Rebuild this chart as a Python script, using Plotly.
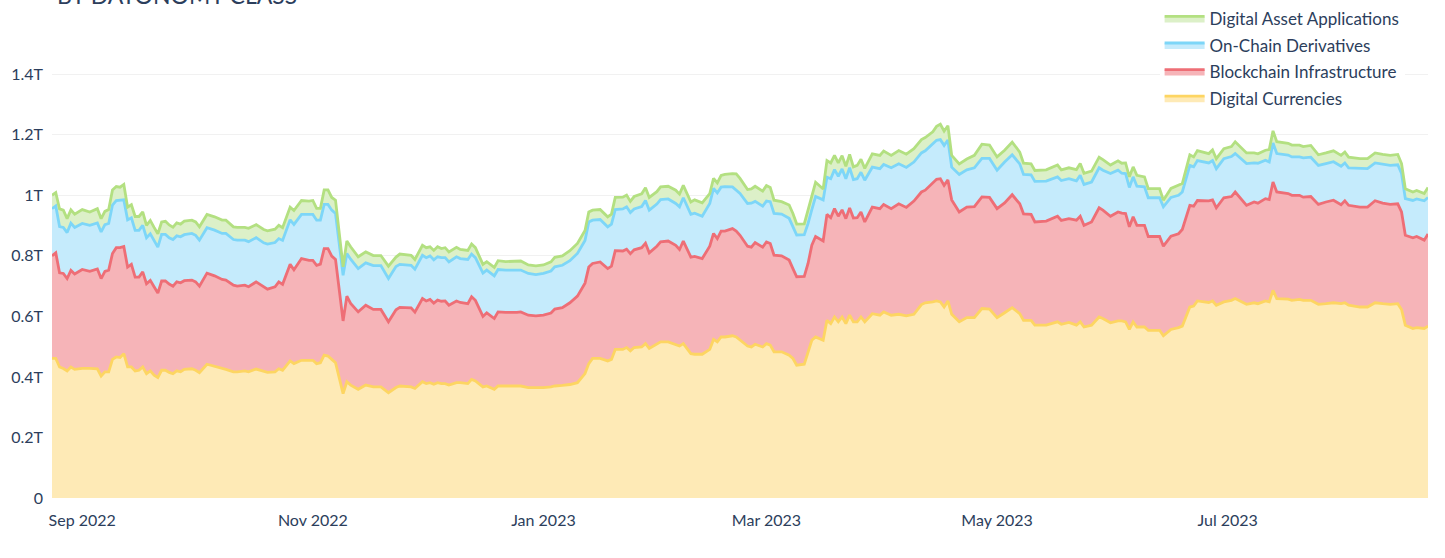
import pandas as pd
import plotly.graph_objects as go

START = "2022-09-01"
day_offsets = [-8, -7, -6, -5, -4, -3, -2, 0, 2, 4, 5, 6, 7, 8, 9, 10, 11, 12, 13, 14, 15, 16, 17, 18, 19, 20,
               21, 22, 23, 24, 25, 26, 27, 29, 30, 31, 33, 35, 37, 38, 40, 41, 43, 44, 46, 48, 49, 51, 52, 53,
               55, 56, 58, 60, 61, 62, 63, 64, 65, 66, 67, 69, 70, 71, 73, 75, 77, 79, 81, 83, 84, 87, 88, 90,
               91, 92, 93, 94, 95, 96, 97, 99, 100, 102, 103, 104, 106, 107, 109, 110, 112, 115, 116, 118, 120,
               122, 124, 125, 127, 129, 131, 133, 134, 135, 137, 139, 140, 141, 143, 144, 145, 146, 148, 149,
               150, 152, 153, 155, 157, 158, 159, 161, 162, 164, 166, 167, 168, 169, 170, 172, 173, 174, 176,
               177, 178, 180, 181, 182, 183, 185, 187, 188, 189, 191, 192, 193, 194, 196, 197, 198, 199, 200,
               201, 202, 203, 204, 205, 206, 207, 209, 211, 212, 214, 216, 218, 220, 222, 223, 225, 226, 227,
               228, 229, 230, 232, 234, 236, 238, 240, 242, 244, 246, 248, 249, 251, 252, 255, 258, 259, 261,
               263, 264, 265, 267, 269, 270, 272, 274, 275, 276, 277, 278, 279, 281, 282, 285, 286, 288, 290,
               291, 293, 294, 295, 297, 298, 299, 300, 302, 304, 305, 308, 310, 311, 313, 314, 315, 316, 319,
               320, 322, 323, 325, 327, 329, 331, 333, 334, 335, 338, 340, 342, 344, 346, 348, 349, 350, 352,
               353, 355, 356]

# values in billions USD
digital_currencies = [461, 461, 433, 428, 420, 433, 425, 428, 428, 427, 403, 417, 417, 458, 466, 464, 477, 433,
                      433, 420, 422, 433, 411, 420, 406, 398, 422, 422, 415, 411, 420, 417, 425, 427, 422, 414,
                      442, 436, 428, 425, 417, 417, 420, 417, 426, 417, 415, 417, 427, 422, 453, 444, 455, 455,
                      455, 444, 447, 472, 469, 458, 447, 345, 384, 373, 359, 373, 367, 367, 348, 365, 370, 367,
                      362, 384, 378, 381, 376, 381, 378, 378, 373, 381, 381, 378, 392, 387, 367, 370, 359, 370,
                      370, 370, 370, 365, 364, 365, 367, 370, 372, 375, 381, 411, 444, 461, 461, 453, 458, 491,
                      491, 497, 486, 497, 499, 510, 494, 507, 516, 516, 508, 502, 510, 477, 475, 475, 491, 524,
                      516, 532, 532, 536, 532, 521, 502, 499, 508, 499, 510, 505, 483, 483, 472, 461, 439, 442,
                      480, 521, 532, 521, 587, 576, 598, 582, 598, 576, 604, 582, 582, 598, 582, 609, 604, 615,
                      604, 607, 602, 607, 639, 645, 648, 651, 648, 631, 651, 607, 582, 596, 596, 626, 624, 596,
                      612, 629, 609, 587, 587, 571, 571, 582, 574, 580, 571, 582, 565, 571, 598, 593, 579, 585,
                      585, 582, 557, 582, 565, 565, 554, 554, 536, 557, 563, 568, 631, 634, 651, 648, 646, 651,
                      637, 648, 653, 659, 640, 645, 642, 651, 648, 686, 659, 657, 653, 656, 653, 653, 640, 642,
                      645, 642, 645, 637, 631, 631, 645, 642, 640, 642, 623, 571, 560, 563, 560, 568]

blockchain_infrastructure = [339, 349, 311, 314, 305, 319, 315, 327, 321, 330, 322, 332, 336, 350, 361, 363, 354,
                             330, 339, 310, 308, 314, 297, 299, 292, 279, 295, 295, 292, 289, 294, 294, 293, 293,
                             292, 286, 301, 298, 294, 295, 286, 283, 283, 281, 288, 281, 275, 281, 287, 284, 319,
                             310, 336, 330, 330, 325, 326, 352, 355, 341, 341, 240, 283, 270, 256, 264, 256, 256,
                             234, 257, 260, 261, 252, 275, 273, 275, 268, 273, 272, 273, 264, 270, 265, 264, 273,
                             266, 233, 242, 234, 245, 243, 243, 245, 239, 238, 239, 244, 254, 257, 270, 286, 299,
                             319, 314, 319, 305, 308, 326, 325, 325, 321, 323, 328, 332, 316, 325, 330, 333, 327,
                             319, 339, 319, 323, 316, 341, 350, 341, 350, 350, 354, 350, 347, 330, 330, 336, 330,
                             336, 336, 319, 317, 314, 297, 292, 290, 295, 314, 332, 328, 350, 350, 358, 349, 354,
                             347, 354, 343, 344, 347, 330, 352, 352, 355, 352, 365, 358, 374, 372, 372, 391, 402,
                             407, 402, 400, 378, 363, 365, 367, 369, 369, 360, 363, 373, 363, 352, 350, 341, 344,
                             349, 343, 343, 347, 349, 336, 341, 361, 358, 352, 360, 356, 358, 339, 347, 336, 336,
                             310, 310, 296, 308, 310, 319, 336, 330, 332, 333, 336, 334, 322, 344, 343, 352, 327,
                             333, 332, 338, 338, 358, 352, 349, 347, 344, 341, 343, 330, 336, 339, 327, 337, 330,
                             330, 330, 337, 332, 330, 330, 322, 297, 300, 301, 292, 304]

on_chain_derivatives = [156, 155, 153, 152, 152, 156, 154, 152, 152, 152, 154, 154, 154, 160, 156, 156, 154, 156,
                        154, 154, 154, 154, 152, 154, 152, 152, 154, 154, 153, 154, 152, 152, 152, 154, 154, 152,
                        150, 151, 152, 154, 151, 152, 149, 149, 146, 145, 149, 146, 143, 145, 147, 150, 146, 152,
                        152, 149, 145, 146, 146, 152, 152, 151, 141, 146, 143, 140, 145, 145, 143, 143, 142, 141,
                        142, 143, 143, 144, 143, 143, 144, 143, 143, 146, 145, 146, 141, 141, 143, 141, 141, 140,
                        140, 140, 138, 138, 136, 138, 139, 140, 140, 139, 141, 141, 149, 143, 140, 138, 139, 136,
                        139, 140, 136, 135, 136, 141, 141, 139, 140, 139, 138, 141, 143, 141, 143, 140, 141, 149,
                        151, 145, 147, 138, 136, 138, 141, 145, 136, 135, 135, 138, 138, 138, 138, 138, 138, 138,
                        132, 118, 132, 136, 123, 129, 129, 132, 135, 132, 133, 127, 129, 131, 138, 132, 132, 132,
                        135, 132, 132, 129, 129, 130, 132, 129, 129, 132, 132, 108, 124, 123, 128, 127, 129, 127,
                        135, 132, 132, 130, 131, 134, 132, 130, 132, 132, 130, 135, 135, 132, 132, 132, 141, 138,
                        132, 132, 130, 132, 129, 127, 128, 128, 130, 128, 127, 124, 132, 130, 132, 129, 125, 130,
                        129, 129, 132, 127, 138, 129, 132, 127, 124, 129, 127, 127, 127, 127, 130, 130, 129, 127,
                        127, 127, 125, 124, 127, 127, 125, 128, 129, 129, 127, 121, 123, 124, 130, 121]

digital_asset_applications = [44, 44, 58, 57, 46, 44, 44, 46, 44, 47, 44, 44, 46, 50, 46, 44, 51, 42, 43, 46, 46,
                              44, 41, 44, 44, 44, 41, 43, 42, 41, 43, 42, 45, 44, 44, 44, 44, 44, 44, 44, 42, 42,
                              42, 44, 43, 44, 44, 44, 44, 42, 42, 46, 46, 44, 46, 39, 39, 48, 48, 42, 44, 28, 41,
                              41, 39, 36, 33, 33, 41, 31, 34, 33, 32, 33, 33, 30, 31, 33, 30, 33, 33, 31, 30, 30,
                              33, 33, 29, 28, 28, 29, 28, 28, 30, 28, 29, 28, 30, 31, 31, 33, 33, 33, 33, 33, 33,
                              33, 33, 40, 39, 39, 37, 41, 42, 42, 42, 41, 42, 42, 44, 42, 41, 41, 44, 44, 33, 33,
                              33, 39, 40, 44, 53, 50, 46, 47, 50, 50, 51, 47, 44, 41, 44, 44, 36, 36, 44, 47, 47,
                              36, 55, 52, 47, 44, 44, 41, 44, 42, 44, 43, 39, 44, 44, 44, 41, 44, 44, 44, 44, 44,
                              39, 46, 51, 47, 47, 39, 35, 36, 41, 47, 44, 44, 39, 42, 39, 37, 36, 36, 37, 39, 35,
                              36, 37, 39, 37, 36, 35, 35, 28, 31, 33, 35, 35, 33, 36, 33, 30, 30, 22, 30, 33, 28,
                              35, 33, 33, 30, 31, 35, 33, 33, 33, 39, 35, 33, 31, 33, 41, 40, 39, 39, 39, 39, 37,
                              39, 35, 35, 36, 36, 36, 35, 33, 33, 33, 33, 33, 34, 33, 33, 28, 28, 24, 33]

series_names = ["Digital Currencies", "Blockchain Infrastructure", "On-Chain Derivatives", "Digital Asset Applications"]
legend_ranks = [4, 3, 2, 1]
line_colors = ["#FDD562", "#EE6E76", "#7DD6F8", "#B3E081"]
fill_colors = ["#FEEAB6", "#F6B4B8", "#C5EBFC", "#DCF0C8"]

dates = pd.to_datetime(START) + pd.to_timedelta(day_offsets, unit="D")
series = [digital_currencies, blockchain_infrastructure, on_chain_derivatives, digital_asset_applications]

fig = go.Figure()
for name, vals, rank, lc, fc in zip(series_names, series, legend_ranks, line_colors, fill_colors):
    fig.add_trace(go.Scatter(
        x=dates, y=[v * 1e9 for v in vals], name=name, mode="lines", legendgroup=name, legendrank=rank,
        stackgroup="one", line=dict(color=lc, width=2.8), fillcolor=fc,
    ))

font_color = "#2C3E5C"
fig.update_layout(
    width=1445, height=558,
    margin=dict(l=52, r=17, t=43.5, b=60, autoexpand=False),
    paper_bgcolor="white", plot_bgcolor="white",
    font=dict(family="Lato", color=font_color, size=16),
    showlegend=True,
    hovermode=False,
    legend=dict(
        traceorder="grouped", tracegroupgap=1.5, x=0.983, xanchor="right", y=1.095, yanchor="top",
        bgcolor="white", font=dict(size=17, color=font_color), itemwidth=40,
    ),
    xaxis=dict(
        range=[dates[0], dates[-1]], dtick="M2", tick0="2022-09-01", tickformat="%b %Y",
        showgrid=False, zeroline=False, showline=False, ticks="", ticklabelstandoff=11,
        tickfont=dict(size=16, color=font_color),
    ),
    yaxis=dict(
        range=[0, 1.5e12], dtick=0.2e12, showgrid=True, gridcolor="#F1F1F1", gridwidth=1,
        zeroline=False, showline=False, ticks="", exponentformat="B", ticklabelstandoff=8,
        tickfont=dict(size=16, color=font_color),
    ),
    annotations=[dict(
        text="BY DATONOMY CLASS", xref="paper", yref="paper", x=0.002, y=1.0736,
        xanchor="left", yanchor="bottom", showarrow=False,
        font=dict(size=23, color=font_color, family="Lato"),
    )],
)

fig.write_html("out.html", config={"displayModeBar": False},
               post_script="document.body.style.margin='0px';")
